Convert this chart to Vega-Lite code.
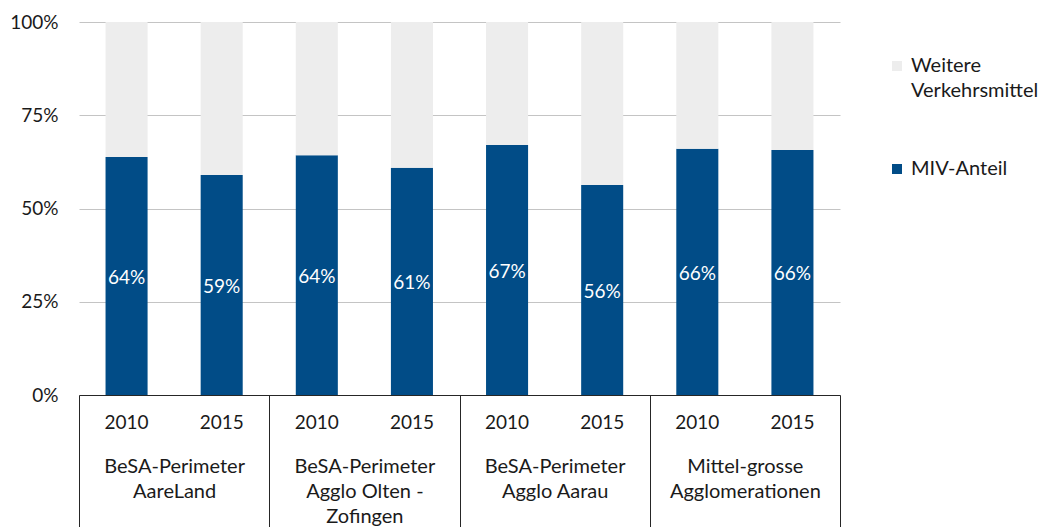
{
  "$schema": "https://vega.github.io/schema/vega-lite/v6.json",
  "width": 761,
  "height": 373,
  "autosize": {"type": "none"},
  "padding": {"left": 79, "top": 22, "right": 202, "bottom": 132},
  "config": {"font": "Lato", "view": {"stroke": null}},
  "data": {
    "values": [
      {"gruppe": "BeSA-Perimeter\nAareLand", "jahr": "2010", "reihe": "MIV-Anteil", "anteil": 0.638},
      {"gruppe": "BeSA-Perimeter\nAareLand", "jahr": "2010", "reihe": "Weitere Verkehrsmittel", "anteil": 0.362},
      {"gruppe": "BeSA-Perimeter\nAareLand", "jahr": "2015", "reihe": "MIV-Anteil", "anteil": 0.59},
      {"gruppe": "BeSA-Perimeter\nAareLand", "jahr": "2015", "reihe": "Weitere Verkehrsmittel", "anteil": 0.41},
      {"gruppe": "BeSA-Perimeter\nAgglo Olten -\nZofingen", "jahr": "2010", "reihe": "MIV-Anteil", "anteil": 0.643},
      {"gruppe": "BeSA-Perimeter\nAgglo Olten -\nZofingen", "jahr": "2010", "reihe": "Weitere Verkehrsmittel", "anteil": 0.357},
      {"gruppe": "BeSA-Perimeter\nAgglo Olten -\nZofingen", "jahr": "2015", "reihe": "MIV-Anteil", "anteil": 0.609},
      {"gruppe": "BeSA-Perimeter\nAgglo Olten -\nZofingen", "jahr": "2015", "reihe": "Weitere Verkehrsmittel", "anteil": 0.391},
      {"gruppe": "BeSA-Perimeter\nAgglo Aarau", "jahr": "2010", "reihe": "MIV-Anteil", "anteil": 0.67},
      {"gruppe": "BeSA-Perimeter\nAgglo Aarau", "jahr": "2010", "reihe": "Weitere Verkehrsmittel", "anteil": 0.33},
      {"gruppe": "BeSA-Perimeter\nAgglo Aarau", "jahr": "2015", "reihe": "MIV-Anteil", "anteil": 0.563},
      {"gruppe": "BeSA-Perimeter\nAgglo Aarau", "jahr": "2015", "reihe": "Weitere Verkehrsmittel", "anteil": 0.437},
      {"gruppe": "Mittel-grosse\nAgglomerationen", "jahr": "2010", "reihe": "MIV-Anteil", "anteil": 0.66},
      {"gruppe": "Mittel-grosse\nAgglomerationen", "jahr": "2010", "reihe": "Weitere Verkehrsmittel", "anteil": 0.34},
      {"gruppe": "Mittel-grosse\nAgglomerationen", "jahr": "2015", "reihe": "MIV-Anteil", "anteil": 0.657},
      {"gruppe": "Mittel-grosse\nAgglomerationen", "jahr": "2015", "reihe": "Weitere Verkehrsmittel", "anteil": 0.343}
    ]
  },
  "encoding": {
    "x": {
      "field": "gruppe",
      "type": "nominal",
      "sort": null,
      "scale": {"paddingInner": 0, "paddingOuter": 0},
      "axis": {
        "title": null,
        "domain": true,
        "domainColor": "#262626",
        "domainWidth": 1,
        "ticks": true,
        "tickBand": "extent",
        "tickSize": 132,
        "tickColor": "#262626",
        "tickWidth": 1,
        "labelPadding": -71,
        "labelFontSize": 20,
        "labelColor": "#1a1a1a",
        "labelLineHeight": 25,
        "labelExpr": "split(datum.label, '\\n')",
        "labelAngle": 0,
        "labelBaseline": "top",
        "labelLimit": 0,
        "labelOverlap": false,
        "labelBound": false,
        "labelFlush": false,
        "grid": false
      }
    },
    "xOffset": {
      "field": "jahr",
      "type": "nominal",
      "scale": {"paddingInner": 0.558, "paddingOuter": 0.279}
    }
  },
  "layer": [
    {
      "mark": {"type": "bar"},
      "encoding": {
        "y": {
          "field": "anteil",
          "type": "quantitative",
          "stack": "zero",
          "scale": {"domain": [0, 1]},
          "axis": {
            "title": null,
            "domain": false,
            "ticks": false,
            "grid": true,
            "gridColor": "#C4C4C4",
            "values": [0, 0.25, 0.5, 0.75, 1],
            "format": ".0%",
            "labelFontSize": 19,
            "labelPadding": 21,
            "labelColor": "#1a1a1a"
          }
        },
        "color": {
          "field": "reihe",
          "type": "nominal",
          "scale": {
            "domain": ["Weitere Verkehrsmittel", "MIV-Anteil"],
            "range": ["#EDEDED", "#014C87"]
          },
          "legend": {
            "title": null,
            "orient": "none",
            "legendX": 808,
            "legendY": 34,
            "symbolType": "square",
            "symbolSize": 100,
            "symbolStrokeWidth": 0,
            "labelFontSize": 20,
            "labelColor": "#1a1a1a",
            "labelLimit": 0,
            "labelOffset": 4,
            "rowPadding": 58,
            "labelExpr": "datum.label == 'Weitere Verkehrsmittel' ? ['Weitere', 'Verkehrsmittel'] : datum.label",
            "encode": {"labels": {"update": {"lineHeight": {"value": 25}}}}
          }
        },
        "order": {"field": "reihe", "sort": "ascending"}
      }
    },
    {
      "transform": [{"filter": "datum.reihe == 'MIV-Anteil'"}],
      "mark": {"type": "text", "color": "white", "fontSize": 19, "baseline": "middle", "dy": 2},
      "encoding": {
        "y": {"field": "anteil", "type": "quantitative", "scale": {"domain": [0, 2]}, "axis": null},
        "text": {"field": "anteil", "type": "quantitative", "format": ".0%"}
      }
    },
    {
      "transform": [{"filter": "datum.reihe == 'MIV-Anteil'"}],
      "mark": {"type": "text", "color": "#1a1a1a", "fontSize": 19, "baseline": "middle", "dy": 28},
      "encoding": {
        "y": {"datum": 0, "type": "quantitative", "scale": {"domain": [0, 1]}, "axis": null},
        "text": {"field": "jahr", "type": "nominal"}
      }
    }
  ],
  "resolve": {"scale": {"y": "independent"}}
}
